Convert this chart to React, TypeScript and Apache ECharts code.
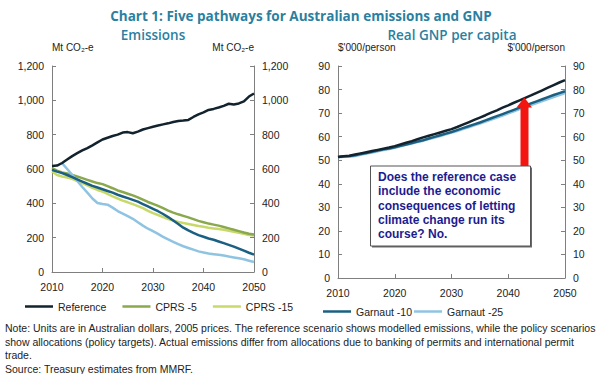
import React, { useEffect, useRef } from "react";
import * as echarts from "echarts";

const years = Array.from({ length: 41 }, (_, i) => 2010 + i);

// Emissions, Mt CO2-e
const emReference = [618, 620, 635, 655, 675, 692, 708, 722, 738, 755, 772, 782, 792, 800, 812, 815, 808, 818, 830, 838, 846, 853, 860, 866, 874, 880, 882, 886, 903, 918, 930, 944, 950, 958, 968, 980, 976, 982, 994, 1022, 1040];
const emCprs5 = [605, 590, 580, 574, 566, 556, 547, 537, 527, 518, 512, 500, 488, 475, 466, 456, 446, 435, 422, 408, 397, 385, 372, 358, 346, 336, 327, 318, 308, 298, 290, 282, 276, 270, 262, 254, 246, 238, 230, 223, 218];
const emCprs15 = [585, 565, 556, 550, 543, 530, 518, 504, 490, 478, 468, 455, 440, 428, 416, 406, 395, 384, 372, 356, 343, 332, 320, 308, 300, 292, 285, 280, 274, 268, 263, 258, 254, 250, 246, 240, 234, 228, 222, 216, 212];
const emGarnaut10 = [595, 585, 576, 565, 553, 540, 527, 514, 502, 492, 482, 472, 462, 450, 440, 430, 420, 410, 396, 382, 368, 354, 338, 320, 300, 280, 258, 242, 228, 215, 205, 195, 188, 178, 168, 158, 148, 136, 124, 112, 101];
const emGarnaut25 = [null, null, 634, 600, 566, 530, 495, 462, 428, 402, 396, 392, 375, 355, 340, 325, 310, 290, 270, 252, 238, 222, 205, 190, 176, 162, 150, 140, 130, 120, 114, 108, 104, 100, 96, 90, 85, 80, 74, 66, 58];

// Real GNP per capita, $'000/person
const gnpReference = [51.4, 51.7, 51.9, 52.4, 52.9, 53.4, 53.9, 54.4, 54.9, 55.4, 56.0, 56.7, 57.4, 58.1, 58.9, 59.7, 60.4, 61.1, 61.8, 62.5, 63.2, 64.1, 65.1, 66.1, 67.1, 68.1, 69.1, 70.2, 71.2, 72.3, 73.3, 74.4, 75.4, 76.5, 77.5, 78.6, 79.7, 80.8, 81.9, 83.0, 84.0];
const gnpGarnaut10 = [51.4, 51.7, 51.8, 52.1, 52.6, 53.1, 53.6, 54.1, 54.6, 55.0, 55.5, 56.1, 56.7, 57.3, 57.9, 58.5, 59.2, 59.9, 60.6, 61.3, 62.0, 62.8, 63.6, 64.4, 65.2, 66.0, 66.9, 67.8, 68.7, 69.6, 70.5, 71.4, 72.3, 73.2, 74.1, 75.0, 75.9, 76.8, 77.7, 78.5, 79.3];
const gnpGarnaut25 = [51.3, 51.5, 51.5, 51.8, 52.3, 52.8, 53.3, 53.8, 54.3, 54.8, 55.3, 55.9, 56.5, 57.1, 57.7, 58.3, 59.0, 59.6, 60.3, 61.0, 61.7, 62.4, 63.2, 64.0, 64.8, 65.6, 66.4, 67.3, 68.1, 69.0, 69.9, 70.8, 71.7, 72.5, 73.4, 74.3, 75.1, 76.0, 76.8, 77.7, 78.5];

const title = "Chart 1: Five pathways for Australian emissions and GNP";
const leftSubtitle = "Emissions";
const rightSubtitle = "Real GNP per capita";
const emUnit = "Mt CO₂-e";
const gnpUnit = "$'000/person";
const calloutLines = [
  "Does the reference case",
  "include the economic",
  "consequences of letting",
  "climate change run its",
  "course? No.",
];
const noteLines = [
  "Note: Units are in Australian dollars, 2005 prices. The reference scenario shows modelled emissions, while the policy scenarios",
  "show allocations (policy targets). Actual emissions differ from allocations due to banking of permits and international permit",
  "trade.",
  "Source: Treasury estimates from MMRF.",
];

const C = {
  reference: "#13232e",
  cprs5: "#8aa84c",
  cprs15: "#c8d96a",
  garnaut10: "#1b5f82",
  garnaut25: "#8ec4e2",
  axis: "#7f7f7f",
  title: "#2b7fa0",
};

const FONT = "'Liberation Sans', Arial, sans-serif";

const pairs = (vals: (number | null)[]) => years.map((y, i) => [y, vals[i]]);

function lineSeries(name: string, data: (number | null)[], color: string, gridIdx: number, z = 2) {
  return {
    type: "line",
    name,
    data: pairs(data),
    xAxisIndex: gridIdx,
    yAxisIndex: gridIdx * 2,
    showSymbol: false,
    symbol: "none",
    connectNulls: false,
    lineStyle: { color, width: 2.5 },
    itemStyle: { color },
    z,
  };
}

function xAxis(gridIndex: number) {
  return {
    type: "value",
    gridIndex,
    min: 2010,
    max: 2050,
    interval: 10,
    axisLine: { show: true, lineStyle: { color: C.axis, width: 1 } },
    axisTick: { show: true, inside: true, length: 4, lineStyle: { color: C.axis } },
    axisLabel: {
      color: "#222",
      fontFamily: FONT,
      fontSize: 10.5,
      margin: 9,
      formatter: (v: number) => String(v),
    },
    splitLine: { show: false },
  };
}

function yAxis(gridIndex: number, position: string, max: number, interval: number, unit: string) {
  const left = position === "left";
  return {
    type: "value",
    gridIndex,
    position,
    min: 0,
    max,
    interval,
    name: unit,
    nameLocation: "end",
    nameGap: 14,
    nameTextStyle: {
      color: "#222",
      fontFamily: FONT,
      fontSize: 10,
      align: left ? "left" : "right",
    },
    axisLine: { show: true, lineStyle: { color: C.axis, width: 1 } },
    axisTick: { show: true, inside: true, length: 4, lineStyle: { color: C.axis } },
    axisLabel: { color: "#222", fontFamily: FONT, fontSize: 10.5, margin: 8 },
    splitLine: { show: false },
  };
}

export default function App() {
  const ref = useRef<HTMLDivElement>(null);
  useEffect(() => {
    if (!ref.current) return;
    const chart = echarts.init(ref.current, null, { renderer: "svg" });
    const option = {
      animation: false,
      backgroundColor: "#ffffff",
      textStyle: { fontFamily: FONT },
      grid: [
        { left: 52, right: 347, top: 66, bottom: 102 },
        { left: 338, right: 36, top: 66, bottom: 96 },
      ],
      xAxis: [xAxis(0), xAxis(1)],
      yAxis: [
        yAxis(0, "left", 1200, 200, emUnit),
        yAxis(0, "right", 1200, 200, emUnit),
        yAxis(1, "left", 90, 10, gnpUnit),
        yAxis(1, "right", 90, 10, gnpUnit),
      ],
      legend: [
        {
          data: ["Reference", "CPRS -5", "CPRS -15"],
          left: 20,
          top: 296,
          icon: "rect",
          itemWidth: 28,
          itemHeight: 2.5,
          itemGap: 16,
          textStyle: { color: "#222", fontFamily: FONT, fontSize: 10.5 },
          selectedMode: false,
        },
        {
          data: ["Garnaut -10", "Garnaut -25"],
          left: 318,
          top: 301,
          icon: "rect",
          itemWidth: 28,
          itemHeight: 2.5,
          itemGap: 2,
          textStyle: { color: "#222", fontFamily: FONT, fontSize: 10.5 },
          selectedMode: false,
        },
      ],
      series: [
        lineSeries("CPRS -15", emCprs15, C.cprs15, 0, 2),
        lineSeries("CPRS -5", emCprs5, C.cprs5, 0, 3),
        lineSeries("Garnaut -25", emGarnaut25, C.garnaut25, 0, 4),
        lineSeries("Garnaut -10", emGarnaut10, C.garnaut10, 0, 5),
        lineSeries("Reference", emReference, C.reference, 0, 6),
        lineSeries("Garnaut -25", gnpGarnaut25, C.garnaut25, 1, 2),
        lineSeries("Garnaut -10", gnpGarnaut10, C.garnaut10, 1, 3),
        lineSeries("Reference", gnpReference, C.reference, 1, 4),
      ],
      graphic: [
        {
          type: "text",
          x: 301,
          y: 16,
          style: { text: title, fill: C.title, font: "bold 13.5px 'Open Sans', sans-serif", align: "center", verticalAlign: "middle" },
        },
        {
          type: "text",
          x: 153,
          y: 35,
          style: { text: leftSubtitle, fill: C.title, font: "600 13.5px 'Open Sans', sans-serif", align: "center", verticalAlign: "middle" },
        },
        {
          type: "text",
          x: 452,
          y: 35,
          style: { text: rightSubtitle, fill: C.title, font: "600 13.5px 'Open Sans', sans-serif", align: "center", verticalAlign: "middle" },
        },
        // red arrow
        {
          type: "rect",
          shape: { x: 520.5, y: 106, width: 8, height: 62 },
          style: { fill: "#f3150f" },
          z: 50,
        },
        {
          type: "polygon",
          shape: { points: [[516.5, 107.5], [532, 107.5], [524.3, 97.5]] },
          style: { fill: "#f3150f" },
          z: 50,
        },
        // callout box
        {
          type: "rect",
          shape: { x: 372, y: 167.5, width: 160, height: 80 },
          style: { fill: "#6a6a6a" },
          z: 51,
        },
        {
          type: "rect",
          shape: { x: 370.5, y: 166, width: 160, height: 80 },
          style: { fill: "#ffffff", stroke: "#555555", lineWidth: 1 },
          z: 52,
        },
        ...calloutLines.map((t, i) => ({
          type: "text",
          x: 378,
          y: 177 + i * 14.3,
          z: 53,
          style: {
            text: t,
            fill: "#1c1c8f",
            font: `bold 12px ${FONT}`,
            verticalAlign: "middle",
          },
        })),
        ...noteLines.map((t, i) => ({
          type: "text",
          x: 5,
          y: 328 + i * 13.7,
          style: { text: t, fill: "#222", font: `10.5px ${FONT}`, verticalAlign: "middle" },
        })),
      ],
    };
    chart.setOption(option as any);
    return () => chart.dispose();
  }, []);
  return (
    <div
      ref={ref}
      style={{ position: "fixed", left: 0, top: 0, width: 601, height: 374, background: "#fff" }}
    />
  );
}
